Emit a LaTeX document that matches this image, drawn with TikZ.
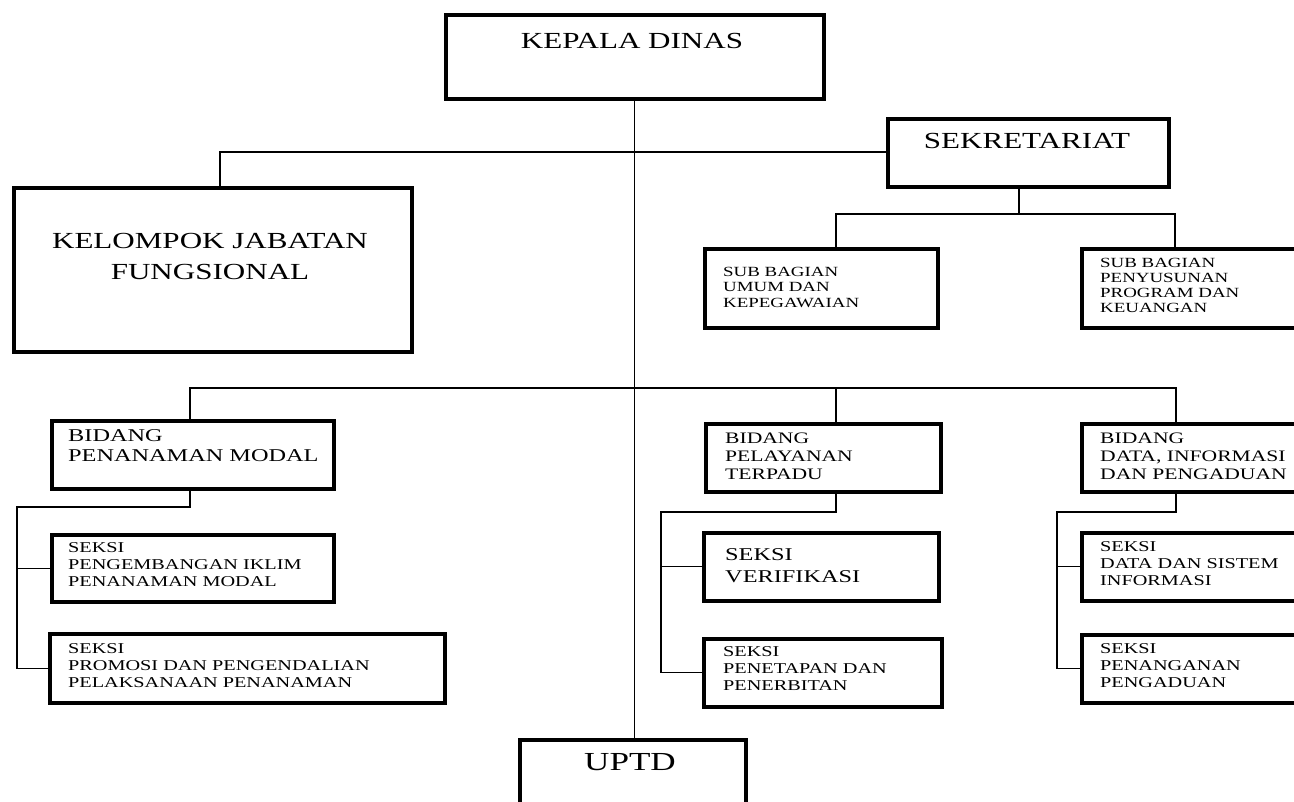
\documentclass[tikz,border=0pt]{standalone}
\usepackage{fontspec}
\setmainfont{Liberation Serif}[FakeStretch=1.35]
\usetikzlibrary{calc}
\tikzset{
  orgbox/.style={draw=black, line width=3.6pt, rectangle, anchor=north west, inner sep=0pt},
  txt/.style={inner sep=0pt, align=left, text=black},
  ctxt/.style={inner sep=0pt, align=center, text=black},
  link/.style={draw=black, line width=1.3pt},
}
\newcommand{\fs}[2]{\fontsize{#1}{#2}\selectfont}
\begin{document}
\begin{tikzpicture}[x=1pt, y=-1pt]
\useasboundingbox (0,0) rectangle (1294,802);
\clip (0,0) rectangle (1294,802);
\fill[white] (0,0) rectangle (1294,802);

% boxes
\node[orgbox, minimum width=378pt, minimum height=84pt] (kd) at (444,13) {};
\node[orgbox, minimum width=281pt, minimum height=68pt] (sek) at (886,117) {};
\node[orgbox, minimum width=398pt, minimum height=164pt] (kjf) at (12,186) {};
\node[orgbox, minimum width=233pt, minimum height=79pt] (sub1) at (703,247) {};
\node[orgbox, minimum width=240pt, minimum height=79pt] (sub2) at (1080,247) {};
\node[orgbox, minimum width=282pt, minimum height=68pt] (bpm) at (50,419) {};
\node[orgbox, minimum width=282pt, minimum height=67pt] (spi) at (50,533) {};
\node[orgbox, minimum width=395pt, minimum height=69pt] (spr) at (48,632) {};
\node[orgbox, minimum width=235pt, minimum height=68pt] (bpt) at (704,422) {};
\node[orgbox, minimum width=235pt, minimum height=68pt] (sver) at (702,531) {};
\node[orgbox, minimum width=238pt, minimum height=68pt] (spen) at (702,637) {};
\node[orgbox, minimum width=240pt, minimum height=68pt] (bdp) at (1080,422) {};
\node[orgbox, minimum width=240pt, minimum height=68pt] (sdata) at (1080,531) {};
\node[orgbox, minimum width=240pt, minimum height=68pt] (speng) at (1080,633) {};
\node[orgbox, minimum width=226pt, minimum height=100pt] (upt) at (518,738) {};

% labels
\node[ctxt, anchor=north, font=\fs{23}{28}] (kdt) at (632,33) {KEPALA DINAS};
\node[ctxt, anchor=north, font=\fs{23}{28}] (sekt) at (1027,133) {SEKRETARIAT};
\node[ctxt, anchor=north, font=\fs{23}{31}] (kjft) at (210,233) {KELOMPOK JABATAN\\FUNGSIONAL};
\node[ctxt, anchor=north, font=\fs{26}{30}] (uptt) at (630,753) {UPTD};
\node[txt, anchor=north west, font=\fs{14}{15.5}] (sub1t) at (723,267) {SUB BAGIAN\\UMUM DAN\\KEPEGAWAIAN};
\node[txt, anchor=north west, font=\fs{14}{15}] (sub2t) at (1100,258) {SUB BAGIAN\\PENYUSUNAN\\PROGRAM DAN\\KEUANGAN};
\node[txt, anchor=north west, font=\fs{18}{20}] (bpmt) at (68,429) {BIDANG\\PENANAMAN MODAL};
\node[txt, anchor=north west, font=\fs{15}{17}] (spit) at (68,542) {SEKSI\\PENGEMBANGAN IKLIM\\PENANAMAN MODAL};
\node[txt, anchor=north west, font=\fs{15}{17}] (sprt) at (68,643) {SEKSI\\PROMOSI DAN PENGENDALIAN\\PELAKSANAAN PENANAMAN};
\node[txt, anchor=north west, font=\fs{16}{18}] (bptt) at (725,433) {BIDANG\\PELAYANAN\\TERPADU};
\node[txt, anchor=north west, font=\fs{18}{22}] (svert) at (725,548) {SEKSI\\VERIFIKASI};
\node[txt, anchor=north west, font=\fs{15}{17}] (spent) at (723,646) {SEKSI\\PENETAPAN DAN\\PENERBITAN};
\node[txt, anchor=north west, font=\fs{16}{18}] (bdpt) at (1100,433) {BIDANG\\DATA, INFORMASI\\DAN PENGADUAN};
\node[txt, anchor=north west, font=\fs{15}{17}] (sdatat) at (1100,541) {SEKSI\\DATA DAN SISTEM\\INFORMASI};
\node[txt, anchor=north west, font=\fs{15}{17}] (spengt) at (1100,643) {SEKSI\\PENANGANAN\\PENGADUAN};

% junction points
\coordinate (jk) at (220,152);
\coordinate (js) at (1019,214);
\coordinate (js1) at (836,214);
\coordinate (js2) at (1175,214);
\coordinate (jb1) at (190,388);
\coordinate (jb2) at (836,388);
\coordinate (jb3) at (1176,388);
\coordinate (jm) at (17,507);
\coordinate (jp) at (661,512);
\coordinate (jd) at (1057,512);

% main spine
\draw[link] (kd.south) -- (kd.south |- upt.north);
% secretariat and functional group
\draw[link] (sek.west |- jk) -- (jk) -- (jk |- kjf.north);
\draw[link] (sek.south -| js) -- (js);
\draw[link] (js1 |- sub1.north) -- (js1) -- (js2) -- (js2 |- sub2.north);
% divisions
\draw[link] (jb1 |- bpm.north) -- (jb1) -- (jb3) -- (jb3 |- bdp.north);
\draw[link] (jb2) -- (jb2 |- bpt.north);
% sections under each division
\draw[link] (jb1 |- bpm.south) |- (jm) -- (jm |- spr.west) -- (spr.west);
\draw[link] (jm |- spi.west) -- (spi.west);
\draw[link] (jb2 |- bpt.south) |- (jp) -- (jp |- spen.west) -- (spen.west);
\draw[link] (jp |- sver.west) -- (sver.west);
\draw[link] (jb3 |- bdp.south) |- (jd) -- (jd |- speng.west) -- (speng.west);
\draw[link] (jd |- sdata.west) -- (sdata.west);
\end{tikzpicture}
\end{document}
